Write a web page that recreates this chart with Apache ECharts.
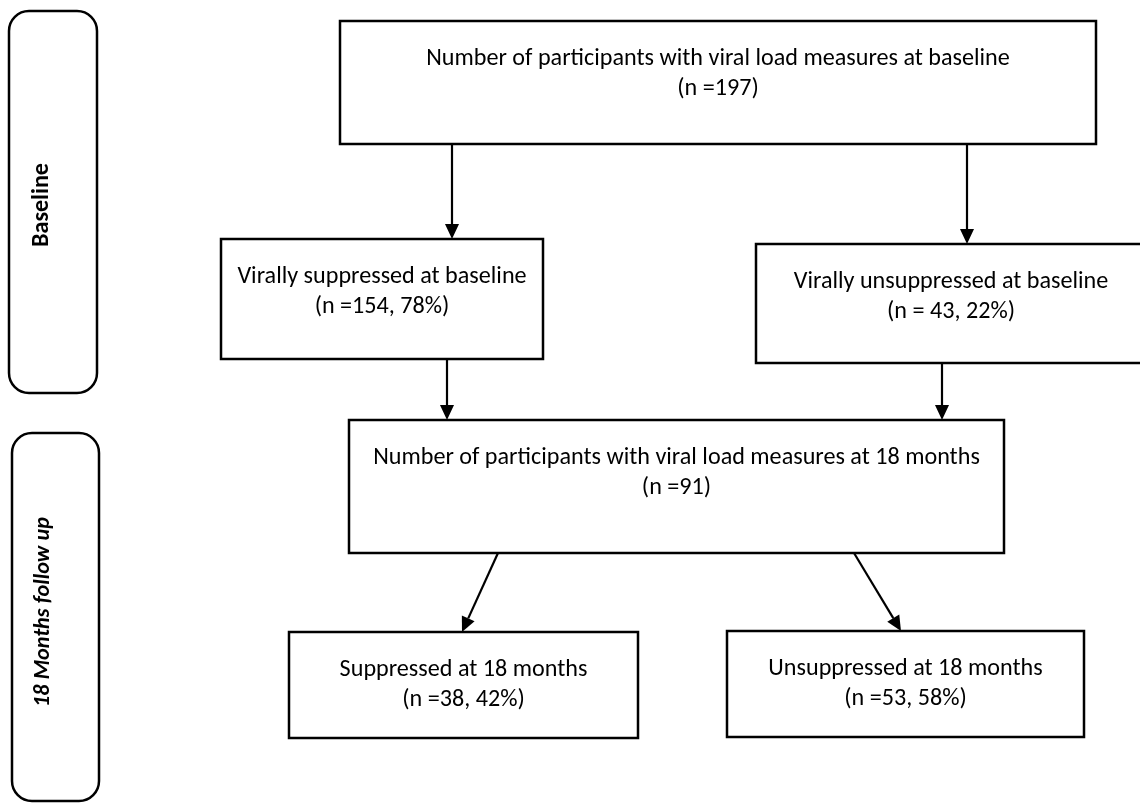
<!DOCTYPE html>
<html>
<head>
<meta charset="utf-8">
<script src="https://cdn.jsdelivr.net/npm/echarts@6/dist/echarts.min.js"></script>
<style>
html,body{margin:0;padding:0;background:#fff;}
#chart{width:1140px;height:803px;}
</style>
</head>
<body>
<div id="chart"></div>
<script>
// ---- content (text & numbers) ----
const stageLabels = ['Baseline', '18 Months follow up'];
const boxTitles = [
  'Number of participants with viral load measures at baseline',
  'Virally suppressed at baseline',
  'Virally unsuppressed at baseline',
  'Number of participants with viral load measures at 18 months',
  'Suppressed at 18 months',
  'Unsuppressed at 18 months'
];
const countLabels = ['(n =197)', '(n =154, 78%)', '(n = 43, 22%)', '(n =91)', '(n =38, 42%)', '(n =53, 58%)'];
// flow links: [from box, to box]
const links = [[0, 1], [0, 2], [1, 3], [2, 3], [3, 4], [3, 5]];

// ---- layout (diagram coordinates, 0..1140 x 0..803) ----
const stageRects = [[9, 11, 97, 393], [12, 433, 99, 801]];
const stageTextPos = [[42, 205], [43, 612]];
const boxRects = [
  [340, 21, 1096, 144],
  [221, 239, 543, 359],
  [756, 244, 1146, 363],
  [349, 420, 1004, 553],
  [289, 632, 638, 738],
  [727, 631, 1084, 737]
];
const arrowPaths = [
  [452, 144, 452, 239],
  [967, 144, 967, 244],
  [447, 359, 447, 420],
  [942, 363, 942, 420],
  [498, 553, 462, 632],
  [854, 553, 901, 631]
];

const FONT = 'Carlito, Lato, "Liberation Sans", sans-serif';
function measure(text, weight, style, size) {
  const c = document.createElement('canvas').getContext('2d');
  c.font = style + ' ' + weight + ' ' + size + 'px ' + FONT;
  return c.measureText(text).width;
}
// fit font size to the reference text widths
const r1 = 313 / measure(boxTitles[2], 'normal', 'normal', 20);
const r2 = 587 / measure(boxTitles[0], 'normal', 'normal', 20);
const bodySize = 20 * (r1 + r2) / 2;
const s1 = 84 / measure(stageLabels[0], 'bold', 'normal', 20);
const s2 = 190 / measure(stageLabels[1], 'bold', 'italic', 20);
const stageSizes = [20 * s1, 20 * s2];

const chart = echarts.init(document.getElementById('chart'), null, {renderer: 'canvas'});

const option = {
  backgroundColor: '#ffffff',
  animation: false,
  grid: {left: 0, right: 0, top: 0, bottom: 0},
  xAxis: {type: 'value', min: 0, max: 1140, show: false},
  yAxis: {type: 'value', min: 0, max: 803, inverse: true, show: false},
  series: [
    {
      type: 'custom',
      name: 'stages',
      clip: false,
      data: stageRects.map((r, i) => [r[0], r[1], r[2], r[3], stageTextPos[i][0], stageTextPos[i][1]]),
      renderItem: function (params, api) {
        const i = params.dataIndex;
        const p0 = api.coord([api.value(0), api.value(1)]);
        const p1 = api.coord([api.value(2), api.value(3)]);
        const t = api.coord([api.value(4), api.value(5)]);
        return {
          type: 'group',
          children: [
            {
              type: 'rect',
              shape: {x: p0[0], y: p0[1], width: p1[0] - p0[0], height: p1[1] - p0[1], r: 20},
              style: {fill: '#fff', stroke: '#000', lineWidth: 2.5}
            },
            {
              type: 'text',
              x: t[0], y: t[1],
              rotation: Math.PI / 2,
              style: {
                text: stageLabels[i],
                x: 0, y: 0,
                align: 'center', verticalAlign: 'middle',
                fontFamily: FONT, fontWeight: 'bold',
                fontStyle: i === 1 ? 'italic' : 'normal',
                fontSize: stageSizes[i],
                fill: '#000'
              }
            }
          ]
        };
      }
    },
    {
      type: 'custom',
      name: 'boxes',
      clip: false,
      data: boxRects.map(r => r.slice()),
      renderItem: function (params, api) {
        const i = params.dataIndex;
        const p0 = api.coord([api.value(0), api.value(1)]);
        const p1 = api.coord([api.value(2), api.value(3)]);
        const cx = (p0[0] + p1[0]) / 2;
        return {
          type: 'group',
          children: [
            {
              type: 'rect',
              shape: {x: p0[0], y: p0[1], width: p1[0] - p0[0], height: p1[1] - p0[1]},
              style: {fill: '#fff', stroke: '#000', lineWidth: 2.5}
            },
            {
              type: 'text',
              style: {
                text: boxTitles[i], x: cx, y: p0[1] + 38,
                align: 'center', verticalAlign: 'middle',
                fontFamily: FONT, fontSize: bodySize, fill: '#000'
              }
            },
            {
              type: 'text',
              style: {
                text: countLabels[i], x: cx, y: p0[1] + 68,
                align: 'center', verticalAlign: 'middle',
                fontFamily: FONT, fontSize: bodySize, fill: '#000'
              }
            }
          ]
        };
      }
    },
    {
      type: 'custom',
      name: 'arrows',
      clip: false,
      data: links.map((l, k) => arrowPaths[k].slice()),
      renderItem: function (params, api) {
        const a = api.coord([api.value(0), api.value(1)]);
        const b = api.coord([api.value(2), api.value(3)]);
        const dx = b[0] - a[0], dy = b[1] - a[1];
        const len = Math.sqrt(dx * dx + dy * dy);
        const ux = dx / len, uy = dy / len;
        const hl = 15, hw = 7;
        const bx = b[0] - ux * hl, by = b[1] - uy * hl;
        return {
          type: 'group',
          children: [
            {
              type: 'line',
              shape: {x1: a[0], y1: a[1], x2: bx, y2: by},
              style: {stroke: '#000', lineWidth: 2.2}
            },
            {
              type: 'polygon',
              shape: {points: [[b[0], b[1]], [bx - uy * hw, by + ux * hw], [bx + uy * hw, by - ux * hw]]},
              style: {fill: '#000'}
            }
          ]
        };
      }
    }
  ]
};
chart.setOption(option);
</script>
</body>
</html>
